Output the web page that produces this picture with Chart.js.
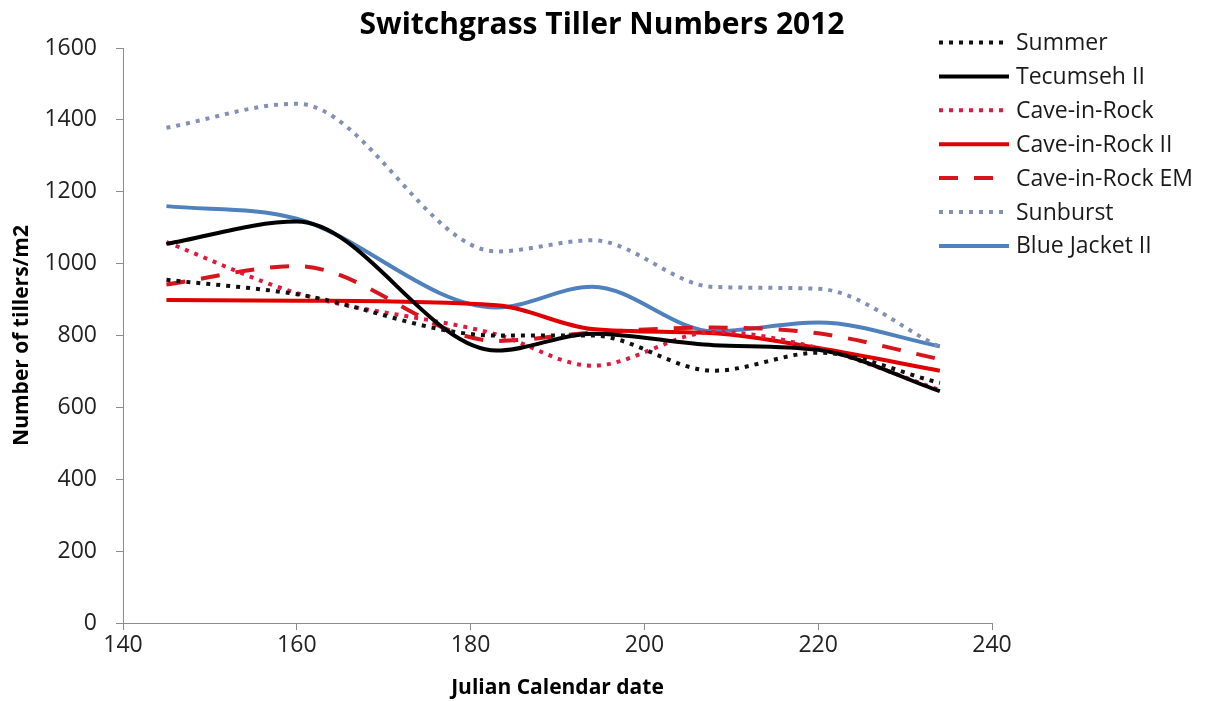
<!DOCTYPE html>
<html>
<head>
<meta charset="utf-8">
<script src="https://cdn.jsdelivr.net/npm/chart.js@4/dist/chart.umd.min.js"></script>
<style>
  html, body { margin: 0; padding: 0; background: #ffffff; }
  #wrap { width: 1208px; height: 701px; position: relative; }
</style>
</head>
<body>
<div id="wrap"><canvas id="chart" width="1208" height="701"></canvas></div>
<script>
// Julian day of each tiller count
const days = [145, 160, 183, 194, 208, 220, 234];

// Tillers per m2 for each cultivar
const summer       = [955, 915, 800, 800, 702, 752, 668];
const tecumsehII   = [1055, 1117, 758, 805, 773, 760, 645];
const caveInRock   = [1060, 918, 803, 716, 810, 765, 648];
const caveInRockII = [899, 897, 884, 818, 806, 765, 702];
const caveInRockEM = [942, 993, 785, 808, 822, 806, 734];
const sunburst     = [1378, 1445, 1034, 1065, 935, 930, 768];
const blueJacketII = [1160, 1125, 878, 936, 812, 836, 770];

const seriesNames = ['Summer', 'Tecumseh II', 'Cave-in-Rock', 'Cave-in-Rock II',
                     'Cave-in-Rock EM', 'Sunburst', 'Blue Jacket II'];

const chartTitle = 'Switchgrass Tiller Numbers 2012';

// Axis tick positions
const xTicks = [140, 160, 180, 200, 220, 240];
const yTicks = [0, 200, 400, 600, 800, 1000, 1200, 1400, 1600];

const FONT = "'Open Sans', 'DejaVu Sans', sans-serif";
const AXIS_GREY = '#8c8c8c';

function pts(values) {
  return values.map((v, i) => ({ x: days[i], y: v }));
}

const styles = [
  { color: '#111111', dash: [4, 6], width: 4 },
  { color: '#000000', dash: [], width: 4 },
  { color: '#e0193f', dash: [4, 6], width: 4 },
  { color: '#e00000', dash: [], width: 4 },
  { color: '#d8141c', dash: [19, 16], width: 4 },
  { color: '#8290b6', dash: [4, 6], width: 4 },
  { color: '#4f81bd', dash: [], width: 4 }
];

const seriesValues = [summer, tecumsehII, caveInRock, caveInRockII, caveInRockEM, sunburst, blueJacketII];

const datasets = seriesValues.map((vals, i) => ({
  label: seriesNames[i],
  data: pts(vals),
  borderColor: styles[i].color,
  backgroundColor: styles[i].color,
  borderWidth: styles[i].width,
  borderDash: styles[i].dash,
  borderCapStyle: 'butt',
  pointRadius: 0,
  pointHoverRadius: 0,
  cubicInterpolationMode: 'monotone',
  fill: false
}));

// Title centred on the page, and the legend list at the upper right over the plot
const headerAndLegend = {
  id: 'headerAndLegend',
  afterDraw(chart) {
    const ctx = chart.ctx;
    ctx.save();
    ctx.fillStyle = '#000000';
    ctx.font = 'bold 30px ' + FONT;
    ctx.textAlign = 'center';
    ctx.textBaseline = 'middle';
    ctx.fillText(chartTitle, 602, 25);

    const x0 = 939, x1 = 1009, textX = 1016;
    const top = 42.5, step = 33.9;
    chart.data.datasets.forEach((ds, i) => {
      const y = top + i * step;
      ctx.beginPath();
      ctx.strokeStyle = ds.borderColor;
      ctx.lineWidth = ds.borderWidth;
      ctx.setLineDash(ds.borderDash || []);
      ctx.lineCap = 'butt';
      ctx.moveTo(x0, y);
      ctx.lineTo(x1, y);
      ctx.stroke();
      ctx.setLineDash([]);
      ctx.fillStyle = '#1a1a1a';
      ctx.font = '23px ' + FONT;
      ctx.textAlign = 'left';
      ctx.textBaseline = 'middle';
      ctx.fillText(ds.label, textX, y + 1);
    });
    ctx.restore();
  }
};

new Chart(document.getElementById('chart'), {
  type: 'line',
  data: { datasets },
  plugins: [headerAndLegend],
  options: {
    responsive: false,
    animation: false,
    events: [],
    layout: { padding: { left: 9, right: 216, top: 48, bottom: 0 } },
    plugins: {
      legend: { display: false },
      tooltip: { enabled: false },
      title: { display: false }
    },
    scales: {
      x: {
        type: 'linear',
        min: 140,
        max: 240,
        afterBuildTicks(scale) { scale.ticks = xTicks.map(v => ({ value: v })); },
        afterFit(scale) { scale.height = 78; },
        grid: { display: true, drawOnChartArea: false, drawTicks: true, tickLength: 7, color: AXIS_GREY },
        border: { display: true, color: AXIS_GREY, width: 1 },
        ticks: {
          color: '#222222', font: { family: FONT, size: 23 }, padding: 2, maxRotation: 0,
          callback: v => String(v)
        },
        title: {
          display: true,
          text: 'Julian Calendar date',
          color: '#000000',
          font: { family: FONT, size: 21, weight: 'bold' },
          padding: { top: 0, bottom: 0 }
        }
      },
      y: {
        type: 'linear',
        min: 0,
        max: 1600,
        afterBuildTicks(scale) { scale.ticks = yTicks.map(v => ({ value: v })); },
        afterFit(scale) { scale.width = 114; },
        grid: { display: true, drawOnChartArea: false, drawTicks: true, tickLength: 7, color: AXIS_GREY },
        border: { display: true, color: AXIS_GREY, width: 1 },
        ticks: {
          color: '#222222', font: { family: FONT, size: 23 }, padding: 19,
          callback: v => String(v)
        },
        title: {
          display: true,
          text: 'Number of tillers/m2',
          color: '#000000',
          font: { family: FONT, size: 21, weight: 'bold' },
          padding: { top: 0, bottom: 0 }
        }
      }
    }
  }
});
</script>
</body>
</html>
